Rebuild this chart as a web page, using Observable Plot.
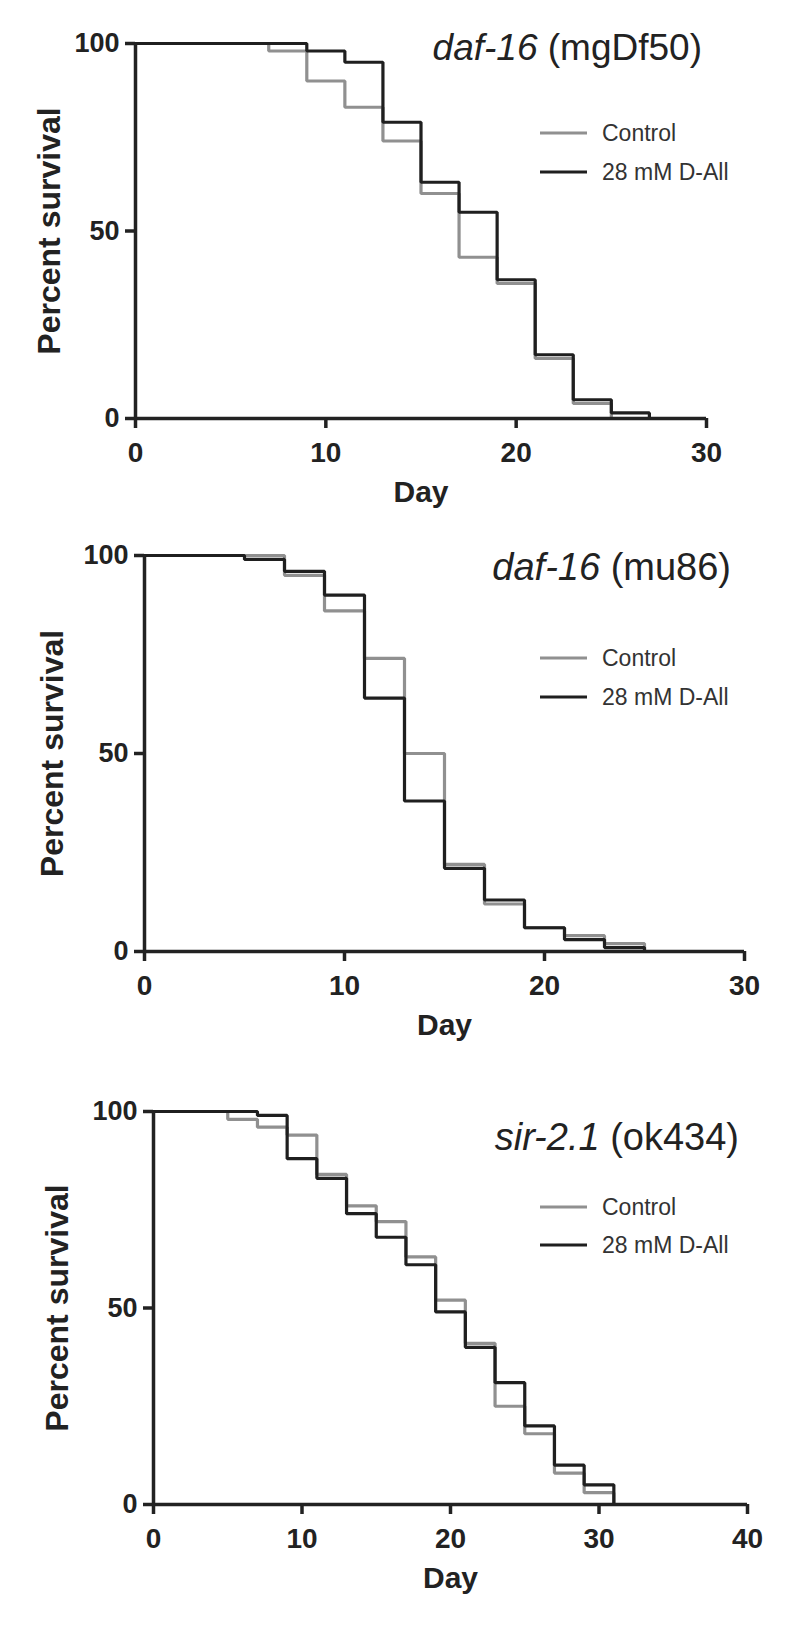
<!DOCTYPE html>
<html><head><meta charset="utf-8">
<script src="https://cdn.jsdelivr.net/npm/d3@7"></script>
<script src="https://cdn.jsdelivr.net/npm/@observablehq/plot@0.6"></script>
<style>
body{margin:0;background:#fff;}
#chart{width:796px;}
#chart svg{display:block;}
</style></head><body><div id="chart"></div>
<script>
// ---- data ----
const seriesNames = ["Control", "28 mM D-All"];
const seriesColors = ["#909090", "#1f1f1f"];
const yTicks = [0, 50, 100];

// Panel 1: daf-16 (mgDf50)
const p1Gene = "daf-16", p1Allele = "(mgDf50)";
const p1XTicks = [0, 10, 20, 30];
const p1ControlDays = [0, 7, 9, 11, 13, 15, 17, 19, 21, 23, 25];
const p1ControlSurv = [100, 98, 90, 83, 74, 60, 43, 36, 16, 4, 0];
const p1DallDays = [0, 9, 11, 13, 15, 17, 19, 21, 23, 25, 27];
const p1DallSurv = [100, 98, 95, 79, 63, 55, 37, 17, 5, 1.5, 0];

// Panel 2: daf-16 (mu86)
const p2Gene = "daf-16", p2Allele = "(mu86)";
const p2XTicks = [0, 10, 20, 30];
const p2ControlDays = [0, 7, 9, 11, 13, 15, 17, 19, 21, 23, 25];
const p2ControlSurv = [100, 95, 86, 74, 50, 22, 12, 6, 4, 2, 0];
const p2DallDays = [0, 5, 7, 9, 11, 13, 15, 17, 19, 21, 23, 25];
const p2DallSurv = [100, 99, 96, 90, 64, 38, 21, 13, 6, 3, 1, 0];

// Panel 3: sir-2.1 (ok434)
const p3Gene = "sir-2.1", p3Allele = "(ok434)";
const p3XTicks = [0, 10, 20, 30, 40];
const p3ControlDays = [0, 5, 7, 9, 11, 13, 15, 17, 19, 21, 23, 25, 27, 29, 31];
const p3ControlSurv = [100, 98, 96, 94, 84, 76, 72, 63, 52, 41, 25, 18, 8, 3, 0];
const p3DallDays = [0, 7, 9, 11, 13, 15, 17, 19, 21, 23, 25, 27, 29, 31];
const p3DallSurv = [100, 99, 88, 83, 74, 68, 61, 49, 40, 31, 20, 10, 5, 0];

// ---- layout ----
const panels = [
  {gene: p1Gene, allele: p1Allele, xTicks: p1XTicks, series: [[p1ControlDays, p1ControlSurv], [p1DallDays, p1DallSurv]],
   height: 520, mt: 43, mb: 102, ml: 135, mr: 90, titleX: 702, titleY: 60, titleSize: 37, legendY: [133, 172], ylabDx: -86},
  {gene: p2Gene, allele: p2Allele, xTicks: p2XTicks, series: [[p2ControlDays, p2ControlSurv], [p2DallDays, p2DallSurv]],
   height: 550, mt: 35, mb: 119, ml: 144, mr: 52, titleX: 731, titleY: 60, titleSize: 38, legendY: [138, 177], ylabDx: -92},
  {gene: p3Gene, allele: p3Allele, xTicks: p3XTicks, series: [[p3ControlDays, p3ControlSurv], [p3DallDays, p3DallSurv]],
   height: 557, mt: 41, mb: 123, ml: 153, mr: 49, titleX: 739, titleY: 80, titleSize: 38, legendY: [137, 175], ylabDx: -96}
];

const FONT = "'Liberation Sans', Arial, Helvetica, sans-serif";
const container = document.getElementById("chart");

for (const p of panels) {
  const lines = p.series.map(([days, surv], i) =>
    Plot.line(days.map((d, j) => ({day: d, surv: surv[j]})), {
      x: "day", y: "surv", curve: "step-after",
      stroke: seriesColors[i], strokeWidth: 3.2, strokeLinejoin: "miter", strokeLinecap: "square"
    }));
  const xmax = p.xTicks[p.xTicks.length - 1];
  const plot = Plot.plot({
    width: 796, height: p.height,
    marginTop: p.mt, marginBottom: p.mb, marginLeft: p.ml, marginRight: p.mr,
    x: {domain: [0, xmax]},
    y: {domain: [0, 100]},
    style: {fontFamily: FONT, background: "white", color: "#222", overflow: "visible"},
    marks: [
      ...lines,
      Plot.ruleX([0], {stroke: "#222", strokeWidth: 3.5}),
      Plot.ruleY([0], {stroke: "#222", strokeWidth: 3.5}),
      Plot.axisX(p.xTicks, {tickSize: 10, tickPadding: 14, fontSize: 28, fontWeight: "bold", strokeWidth: 3.5, label: null}),
      Plot.axisY(yTicks, {tickSize: 10, tickPadding: 6, fontSize: 27, fontWeight: "bold", strokeWidth: 3.5, label: null}),
      Plot.text(["Day"], {frameAnchor: "bottom", dy: 74, fontSize: 30, fontWeight: "bold", textAnchor: "middle", lineAnchor: "middle", fill: "#222"}),
      Plot.text(["Percent survival"], {frameAnchor: "left", dx: p.ylabDx, rotate: -90, fontSize: 32, fontWeight: "bold", textAnchor: "middle", lineAnchor: "middle", fill: "#222"})
    ]
  });
  const svg = d3.select(plot);
  const t = svg.append("text")
    .attr("x", p.titleX).attr("y", p.titleY)
    .attr("text-anchor", "end").attr("font-size", p.titleSize)
    .attr("font-family", FONT).attr("fill", "#222");
  t.append("tspan").attr("font-style", "italic").text(p.gene);
  t.append("tspan").text(" " + p.allele);
  seriesNames.forEach((name, i) => {
    svg.append("line")
      .attr("x1", 540).attr("x2", 587)
      .attr("y1", p.legendY[i]).attr("y2", p.legendY[i])
      .attr("stroke", seriesColors[i]).attr("stroke-width", 3);
    svg.append("text")
      .attr("x", 602).attr("y", p.legendY[i])
      .attr("text-anchor", "start")
      .attr("dominant-baseline", "central")
      .attr("font-size", 23).attr("font-family", FONT).attr("fill", "#333")
      .text(name);
  });
  container.appendChild(plot);
}
</script>
</body></html>
